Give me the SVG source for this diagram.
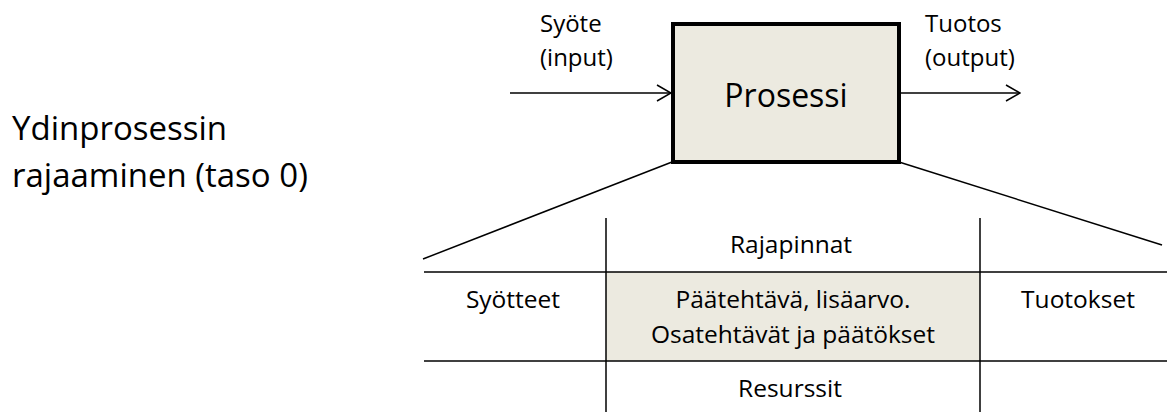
<svg xmlns="http://www.w3.org/2000/svg" width="1167" height="412" viewBox="0 0 1167 412">
<defs>
<style>
text{font-family:"Open Sans","Liberation Sans",sans-serif;fill:#000}
.s{font-size:24px}
.m{font-size:24.5px}
.p{font-size:32px}
.l{font-size:33px}
.ln{stroke:#000;stroke-width:1.5;fill:none}
</style>
<marker id="ah" markerWidth="16" markerHeight="18" refX="15" refY="9" orient="auto" markerUnits="userSpaceOnUse">
<path d="M1,1 L15,9 L1,17" fill="none" stroke="#000" stroke-width="1.5"/>
</marker>
</defs>
<rect width="1167" height="412" fill="#fff"/>
<g id="title">
<text class="l" x="12" y="140">Ydinprosessin</text>
<text class="l" x="12" y="187">rajaaminen (taso 0)</text>
</g>
<g id="cell-center">
<rect x="606" y="272" width="374" height="89" fill="#ECEAE0"/>
</g>
<g id="process">
<rect x="673" y="24" width="226" height="138" fill="#ECEAE0" stroke="#000" stroke-width="4"/>
<text class="p" x="786" y="107" text-anchor="middle">Prosessi</text>
</g>
<g id="input-label">
<text class="s" x="540" y="32">Syöte</text>
<text class="s" x="540" y="66">(input)</text>
</g>
<g id="output-label">
<text class="s" x="925" y="32">Tuotos</text>
<text class="s" x="925" y="66">(output)</text>
</g>
<g id="connectors">
<line class="ln" x1="510" y1="93" x2="671" y2="93" marker-end="url(#ah)"/>
<line class="ln" x1="901" y1="93" x2="1020" y2="93" marker-end="url(#ah)"/>
<line class="ln" x1="672" y1="162" x2="423" y2="259"/>
<line class="ln" x1="899" y1="162" x2="1162" y2="245"/>
</g>
<g id="table">
<line class="ln" x1="424" y1="272" x2="1167" y2="272"/>
<line class="ln" x1="424" y1="361" x2="1167" y2="361"/>
<line class="ln" x1="606" y1="218" x2="606" y2="412"/>
<line class="ln" x1="980" y1="218" x2="980" y2="412"/>
<text class="m" x="791" y="253" text-anchor="middle">Rajapinnat</text>
<text class="m" x="513" y="308" text-anchor="middle">Syötteet</text>
<text class="m" x="793" y="308" text-anchor="middle">Päätehtävä, lisäarvo.</text>
<text class="m" x="793" y="343" text-anchor="middle">Osatehtävät ja päätökset</text>
<text class="m" x="1078" y="308" text-anchor="middle">Tuotokset</text>
<text class="m" x="790" y="397" text-anchor="middle">Resurssit</text>
</g>
</svg>
